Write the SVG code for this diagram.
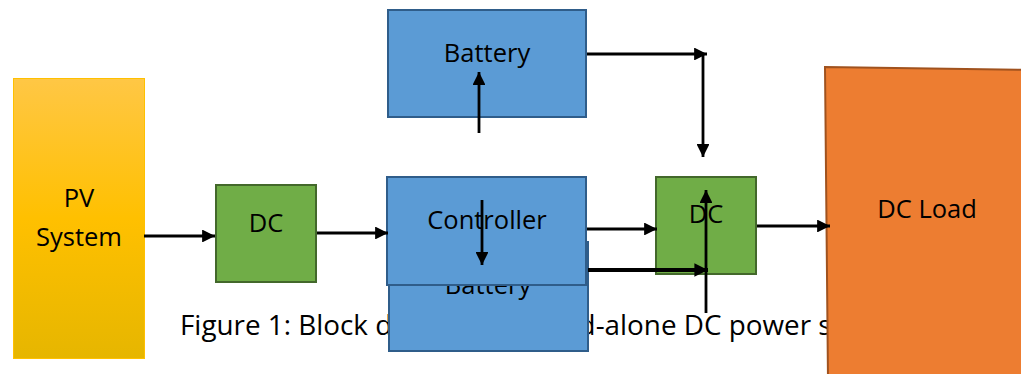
<svg xmlns="http://www.w3.org/2000/svg" width="1021" height="374" viewBox="0 0 1021 374">
<defs>
<linearGradient id="pvg" x1="0" y1="0" x2="0" y2="1">
<stop offset="0" stop-color="#FFC745"/>
<stop offset="0.5" stop-color="#FFC000"/>
<stop offset="1" stop-color="#E6B600"/>
</linearGradient>
<marker id="ah" viewBox="0 0 10 10" refX="10" refY="5" markerWidth="5.5" markerHeight="4.6" markerUnits="strokeWidth" orient="auto">
<path d="M0,0 L10,5 L0,10 z" fill="#000"/>
</marker>
<marker id="ah2" viewBox="0 0 10 10" refX="10" refY="5" markerWidth="4" markerHeight="3.4" markerUnits="strokeWidth" orient="auto">
<path d="M0,0 L10,5 L0,10 z" fill="#000"/>
</marker>
</defs>
<style>
text{font-family:"Open Sans","Liberation Sans",sans-serif;font-size:25.5px;fill:#000}
.c{text-anchor:middle}
.cap{font-size:27.5px}
.blue{fill:#5B9BD5;stroke:#2F5D8A;stroke-width:2}
.green{fill:#70AD47;stroke:#43682B;stroke-width:2}
.ln{stroke:#000;stroke-width:2.8;fill:none;marker-end:url(#ah)}
.thick{stroke:#000;stroke-width:4;fill:none;marker-end:url(#ah2)}
</style>
<rect width="1021" height="374" fill="#fff"/>
<text id="caption" class="cap" x="180" y="335" textLength="730" lengthAdjust="spacingAndGlyphs">Figure 1: Block diagram of stand-alone DC power system</text>
<g id="pv">
<rect x="13.5" y="78.5" width="131" height="280" fill="url(#pvg)" stroke="#FFC000" stroke-width="1"/>
<text class="c" x="79" y="207">PV</text>
<text class="c" x="79" y="246">System</text>
</g>
<g id="dc1">
<rect x="216" y="185" width="100" height="97" class="green"/>
<text class="c" x="266" y="232">DC</text>
</g>
<g id="battery1">
<rect x="388" y="10" width="198" height="107" class="blue"/>
<text class="c" x="487" y="62">Battery</text>
</g>
<g id="battery2">
<rect x="389" y="242" width="199" height="109" class="blue"/>
<text class="c" x="488" y="294">Battery</text>
</g>
<g id="controller">
<rect x="387" y="177" width="199" height="108" class="blue"/>
<text class="c" x="487" y="229">Controller</text>
</g>
<g id="dc2">
<rect x="656" y="177" width="100" height="97" class="green"/>
<text class="c" x="706" y="223">DC</text>
</g>
<g id="dcload">
<path d="M825,67 L1030,70 L1030,380 L828,380 Z" fill="#ED7D31" stroke="#A0521E" stroke-width="2"/>
<text class="c" x="927" y="218">DC Load</text>
</g>
<g id="connectors">
<line class="ln" x1="144" y1="236" x2="215" y2="236"/>
<line class="ln" x1="317" y1="233" x2="388" y2="233"/>
<line class="ln" x1="587" y1="54" x2="707" y2="54"/>
<line class="ln" x1="703" y1="54" x2="703" y2="157"/>
<line class="ln" x1="479" y1="133" x2="479" y2="72"/>
<line class="ln" x1="482" y1="200" x2="482" y2="265"/>
<line class="ln" x1="587" y1="229" x2="657" y2="229"/>
<line class="thick" x1="588" y1="270" x2="708" y2="270"/>
<line class="ln" x1="706" y1="313" x2="706" y2="190"/>
<line class="ln" x1="757" y1="226" x2="830" y2="226"/>
</g>
</svg>
